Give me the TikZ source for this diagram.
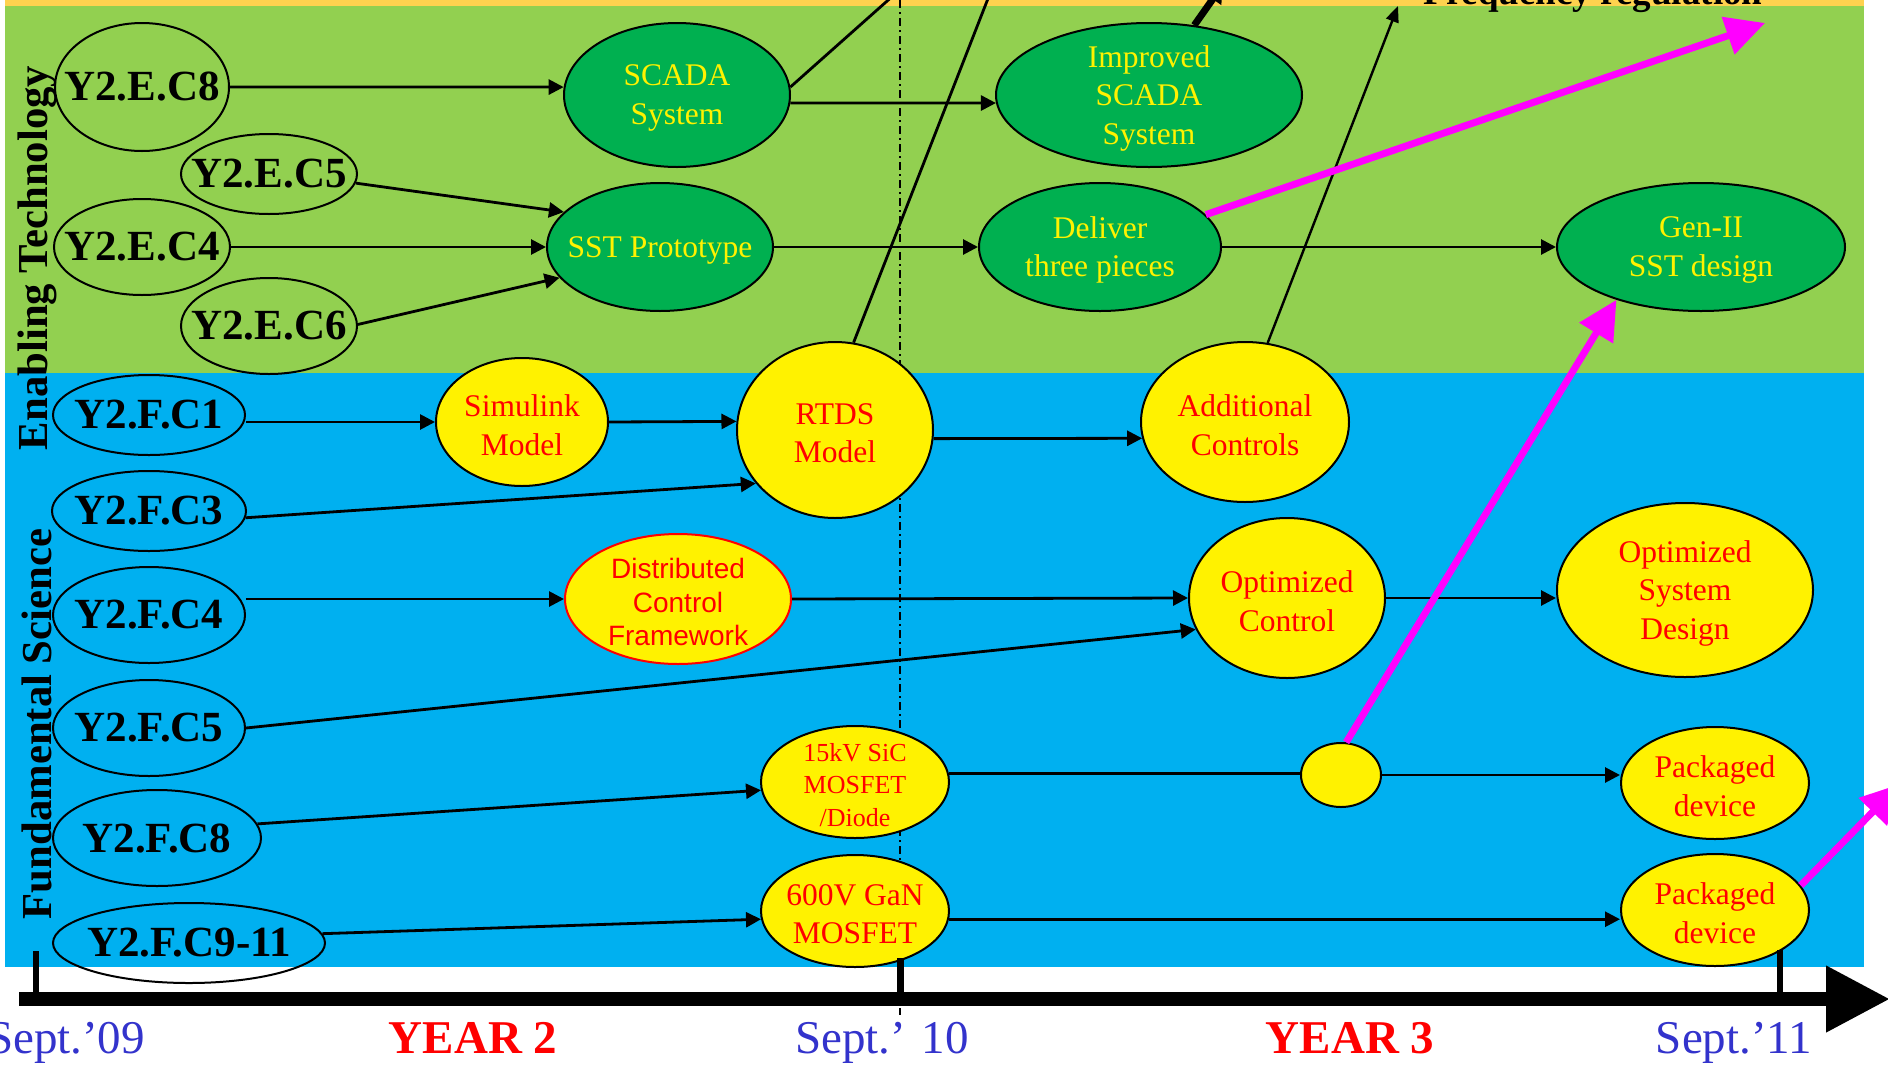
\documentclass[tikz,border=0pt]{standalone}
\usepackage{fontspec}
\setmainfont{Liberation Serif}
\newfontfamily\arialfont{Liberation Sans}
\usetikzlibrary{arrows.meta,shapes.geometric}

\definecolor{bandorange}{HTML}{FFD24F}
\definecolor{bandgreen}{HTML}{92D050}
\definecolor{bandblue}{HTML}{00B0F0}
\definecolor{nodegreen}{HTML}{00B050}
\definecolor{dateblue}{HTML}{3333CC}
\definecolor{hotpink}{RGB}{255,0,255}

% empty elliptical node of given half axes: style, name, x, y, rx, ry
\newcommand{\ellnode}[6]{%
  \node[#1,minimum width=2*#5pt,minimum height=2*#6pt] (#2) at (#3,#4) {};}

\begin{document}
\begin{tikzpicture}[x=1pt,y=-1pt,
  oval/.style={ellipse,draw=black,line width=2pt,inner sep=0pt},
  greenoval/.style={oval,fill=nodegreen},
  yellowoval/.style={oval,fill=yellow},
  code/.style={inner sep=0pt,font=\fontsize{43}{46}\selectfont\bfseries},
  gtext/.style={inner sep=0pt,yshift=-3pt,align=center,text=yellow,font=\fontsize{31.5}{38.5}\selectfont},
  ytext/.style={inner sep=0pt,yshift=-3pt,align=center,text=red,font=\fontsize{31.5}{38.5}\selectfont},
  link/.style={line width=2.8pt,-{Triangle[length=15pt,width=15pt]}},
  bare/.style={line width=2.8pt},
  hot/.style={draw=hotpink,fill=hotpink,line width=7pt,-{Triangle[length=39pt,width=38pt]}},
  date/.style={anchor=base,inner sep=0pt,text=dateblue,font=\fontsize{47}{50}\selectfont},
  year/.style={anchor=base,inner sep=0pt,text=red,font=\fontsize{47}{50}\selectfont\bfseries},
  side/.style={rotate=90,inner sep=0pt,font=\fontsize{42.7}{46}\selectfont\bfseries}
]
\useasboundingbox (0,0) rectangle (1888,1066);
\clip (0,0) rectangle (1888,1066);

% bands
\fill[white] (0,0) rectangle (1888,1066);
\fill[bandorange] (5,0) rectangle (1864,6);
\fill[bandgreen] (5,6) rectangle (1864,373);
\fill[bandblue] (5,373) rectangle (1864,967);

% milestone guide line at Sept. 10
\coordinate (guidetop) at (900,0);
\coordinate (guidebot) at (900,1015);
\draw[line width=1.5pt,dash pattern=on 8pt off 4pt on 2pt off 4pt] (guidetop) -- (guidebot);

% enabling technology row
\ellnode{oval}{e8}{142}{87}{87}{64}
\ellnode{oval}{e5}{269}{174}{88}{40}
\ellnode{oval}{e4}{142}{247}{88}{48}
\ellnode{oval}{e6}{269}{326}{88}{48}
\ellnode{greenoval}{scada}{677}{95}{113}{72}
\ellnode{greenoval}{sst}{660}{247}{113}{64}
\ellnode{greenoval}{imp}{1149}{95}{153}{72}
\ellnode{greenoval}{deliver}{1100}{247}{121}{64}
\ellnode{greenoval}{gen2}{1701}{247}{144}{64}

\node[code] (e8-t) at (e8) {Y2.E.C8};
\node[code] (e5-t) at (e5) {Y2.E.C5};
\node[code] (e4-t) at (e4) {Y2.E.C4};
\node[code] (e6-t) at (e6) {Y2.E.C6};
\node[gtext] (scada-t) at (scada) {SCADA\\System};
\node[gtext] (sst-t) at (sst) {SST Prototype};
\node[gtext] (imp-t) at (imp) {Improved\\SCADA\\System};
\node[gtext] (deliver-t) at (deliver) {Deliver\\three pieces};
\node[gtext] (gen2-t) at (gen2) {Gen-II\\SST design};

% fundamental science row
\ellnode{oval}{f1}{149}{415}{96}{40}
\ellnode{oval}{f3}{149}{511}{97}{40}
\ellnode{oval}{f4}{149}{615}{96}{48}
\ellnode{oval}{f5}{149}{728}{96}{48}
\ellnode{oval}{f8}{157}{838}{104}{48}
\ellnode{oval}{f911}{189}{943}{136}{40}
\ellnode{yellowoval}{sim}{522}{422}{86}{64}
\ellnode{yellowoval}{rtds}{835}{430}{98}{88}
\ellnode{yellowoval}{addc}{1245}{422}{104}{80}
\ellnode{yellowoval,draw=red}{dist}{678}{599}{113}{65}
\ellnode{yellowoval}{optc}{1287}{598}{98}{80}
\ellnode{yellowoval}{optsys}{1685}{590}{128}{87}
\ellnode{yellowoval}{sic}{855}{782}{94}{56}
\ellnode{yellowoval}{gan}{855}{911}{94}{56}
\ellnode{yellowoval}{dot}{1341}{775}{40}{32}
\ellnode{yellowoval}{pkg1}{1715}{783}{94}{56}
\ellnode{yellowoval}{pkg2}{1715}{910}{94}{56}

\node[code] (f1-t) at (f1) {Y2.F.C1};
\node[code] (f3-t) at (f3) {Y2.F.C3};
\node[code] (f4-t) at (f4) {Y2.F.C4};
\node[code] (f5-t) at (f5) {Y2.F.C5};
\node[code] (f8-t) at (f8) {Y2.F.C8};
\node[code] (f911-t) at (f911) {Y2.F.C9-11};
\node[ytext] (sim-t) at (sim) {Simulink\\Model};
\node[ytext] (rtds-t) at (rtds) {RTDS\\Model};
\node[ytext] (addc-t) at (addc) {Additional\\Controls};
\node[ytext,font=\arialfont\fontsize{28}{33.5}\selectfont] (dist-t) at (dist) {Distributed\\Control\\Framework};
\node[ytext] (optc-t) at (optc) {Optimized\\Control};
\node[ytext] (optsys-t) at (optsys) {Optimized\\System\\Design};
\node[ytext,font=\fontsize{26}{32.5}\selectfont] (sic-t) at (sic) {15kV SiC\\MOSFET\\/Diode};
\node[ytext] (gan-t) at (gan) {600V GaN\\MOSFET};
\node[ytext] (pkg1-t) at (pkg1) {Packaged\\device};
\node[ytext] (pkg2-t) at (pkg2) {Packaged\\device};

% free ends of the lines leaving the chart
\coordinate (scadaup) at (985,-86);
\coordinate (rtdsup) at (1014,-68);
\coordinate (impup) at (1222,-14);
\coordinate (freqend) at (1398,6);
\coordinate (hotend1) at (1765,23);
\coordinate (hotend3) at (1900,784);

% connectors, enabling technology
\draw[link] (e8.east) -- (scada.176);
\draw[link] (e5.-6) -- (sst.160);
\draw[link] (e4.east) -- (sst.west);
\draw[link] (e6.1) -- (sst.197);
\draw[link] (scada.-4) -- (imp.183);
\draw[link] (sst.east) -- (deliver.west);
\draw[link] (deliver.east) -- (gen2.west);
\draw[bare] (scada.4) -- (scadaup);
\draw[bare] (rtds.78) -- (rtdsup);
\draw[line width=7pt,-{Triangle[length=16pt,width=20pt]}] (imp.57) -- (impup);
\draw[line width=2.4pt,-{Triangle[length=16pt,width=13pt]}] (addc.74) -- (freqend);

% connectors, fundamental science
\draw[link] (f1.east |- sim.west) -- (sim.west);
\draw[link] (sim.east) -- (rtds.175);
\draw[link] (f3.-4) -- (rtds.214);
\draw[link] (rtds.-5) -- (addc.189);
\draw[link] (f4.east |- dist.west) -- (dist.west);
\draw[link] (dist.east) -- (optc.west);
\draw[link] (f5.east) -- (optc.199);
\draw[link] (optc.east) -- (optc.east -| optsys.west);
\draw[link] (f8.8) -- (sic.185);
\draw[bare] (sic.5) -- (sic.5 -| dot.west);
\draw[link] (dot.east) -- (dot.east -| pkg1.west);
\draw[link] (f911.4) -- (gan.185);
\draw[link] (gan.-5) -- (gan.-5 -| pkg2.west);

% highlighted transfers
\draw[hot] (deliver.17) -- (hotend1);
\draw[hot] (dot.81) -- (gen2.212);
\draw[hot] (pkg2.16) -- (hotend3);

% time axis
\coordinate (axstart) at (19,999);
\coordinate (axend) at (1890,999);
\draw[line width=14pt,-{Triangle[length=64pt,width=63pt]}] (axstart) -- (axend);
\coordinate (tick0) at (36,951);
\coordinate (tick1) at (900,958);
\coordinate (tick2) at (1780,950);
\draw[line width=6pt] (tick0) -- (tick0 |- axstart);
\draw[line width=7pt] (tick1) -- (tick1 |- axstart);
\draw[line width=6pt] (tick2) -- (tick2 |- axstart);

\node[date] (d09) at (66,1053) {Sept.’09};
\node[year] (y2) at (473,1053) {YEAR 2};
\node[date] (d10) at (882,1053) {Sept.’ 10};
\node[year] (y3) at (1350,1053) {YEAR 3};
\node[date] (d11) at (1734,1053) {Sept.’11};

% row captions and the heading above the chart
\node[side] (cap-et) at (37,258) {Enabling Technology};
\node[side] (cap-fs) at (37,724) {Fundamental Science};
\node[anchor=base,inner sep=0pt,font=\fontsize{37}{40}\selectfont\bfseries] (freq) at (1593,4) {Frequency regulation};
\end{tikzpicture}
\end{document}
